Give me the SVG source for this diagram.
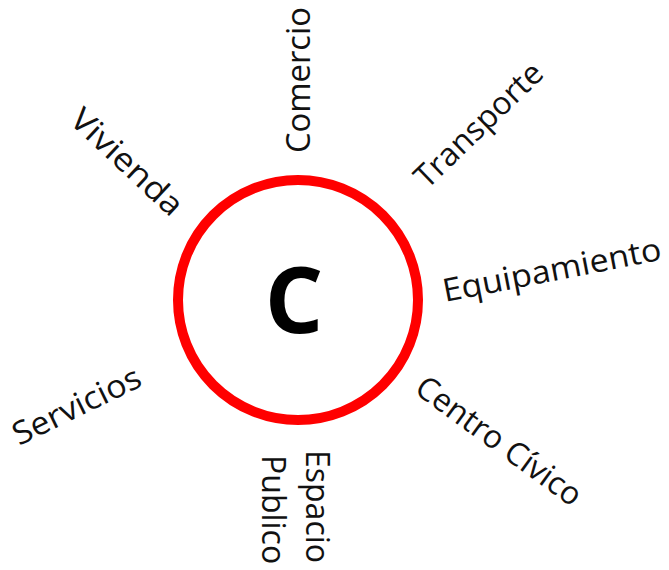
<svg xmlns="http://www.w3.org/2000/svg" width="669" height="570" viewBox="0 0 669 570">
  <style>
    .lbl { font-family: "Open Sans", "Noto Sans", "Liberation Sans", sans-serif; font-size: 32px; fill: #111111; }
    .core { font-family: "Open Sans", "Noto Sans", "Liberation Sans", sans-serif; font-size: 92px; font-weight: bold; fill: #000000; }
    .ring { fill: none; stroke: #ff0000; stroke-width: 10; }
  </style>
  <rect x="0" y="0" width="669" height="570" fill="#ffffff"/>
  <g id="centro">
    <circle class="ring" cx="298" cy="300" r="120"/>
    <text class="core" x="294" y="333" text-anchor="middle">C</text>
  </g>
  <g id="comercio">
    <text class="lbl" transform="translate(310,153) rotate(-90)" textLength="146" lengthAdjust="spacingAndGlyphs">Comercio</text>
  </g>
  <g id="vivienda">
    <text class="lbl" transform="translate(68,122) rotate(43)" textLength="141" lengthAdjust="spacingAndGlyphs">Vivienda</text>
  </g>
  <g id="transporte">
    <text class="lbl" transform="translate(427,190) rotate(-44)">Transporte</text>
  </g>
  <g id="equipamiento">
    <text class="lbl" transform="translate(445,302) rotate(-11)" textLength="222" lengthAdjust="spacingAndGlyphs">Equipamiento</text>
  </g>
  <g id="servicios">
    <text class="lbl" transform="translate(19,446) rotate(-26)" textLength="139" lengthAdjust="spacingAndGlyphs">Servicios</text>
  </g>
  <g id="espacio-publico">
    <text class="lbl" transform="translate(306,450) rotate(90)">Espacio</text>
    <text class="lbl" transform="translate(262,455) rotate(90)">Publico</text>
  </g>
  <g id="centro-civico">
    <text class="lbl" transform="translate(413,392) rotate(36)">Centro Cívico</text>
  </g>
</svg>
